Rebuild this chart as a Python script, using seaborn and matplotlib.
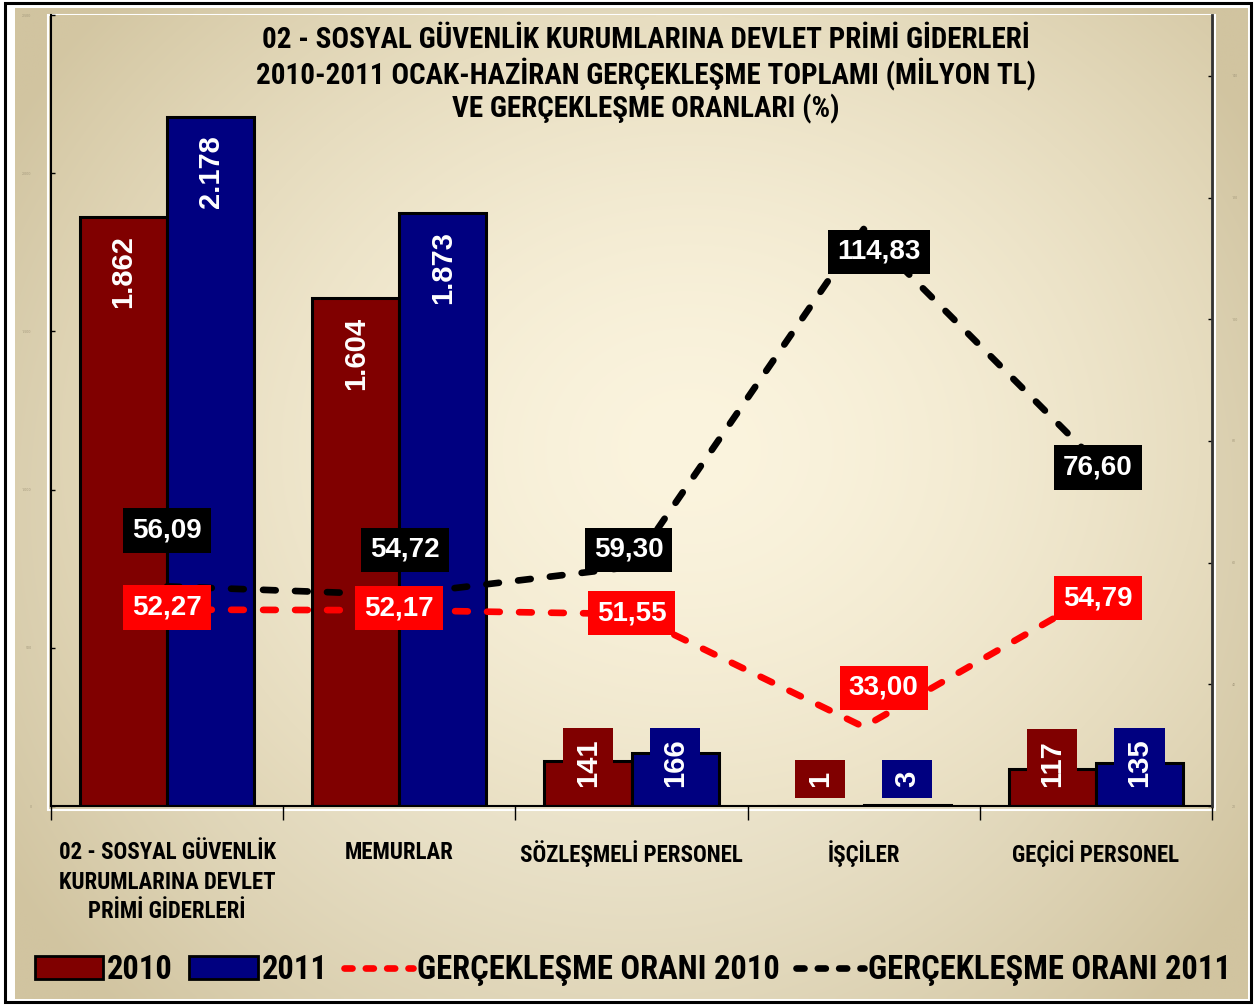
import numpy as np
import pandas as pd
import matplotlib
matplotlib.use("Agg")
import matplotlib.pyplot as plt
import seaborn as sns
from matplotlib import font_manager
from matplotlib.patches import Patch, Rectangle
from matplotlib.lines import Line2D
from matplotlib.ticker import FixedLocator, FuncFormatter

# data
kategoriler = ["02 - SOSYAL GÜVENLİK\nKURUMLARINA DEVLET\nPRİMİ GİDERLERİ",
               "MEMURLAR", "SÖZLEŞMELİ PERSONEL", "İŞÇİLER", "GEÇİCİ PERSONEL"]
yillar = ["2010", "2011"]
gider_2010 = [1862, 1604, 141, 1, 117]
gider_2011 = [2178, 1873, 166, 3, 135]
oran_2010 = [52.27, 52.17, 51.55, 33.00, 54.79]
oran_2011 = [56.09, 54.72, 59.30, 114.83, 76.60]

baslik = ("02 - SOSYAL GÜVENLİK KURUMLARINA DEVLET PRİMİ GİDERLERİ\n"
          "2010-2011 OCAK-HAZİRAN GERÇEKLEŞME TOPLAMI (MİLYON TL)\n"
          "VE GERÇEKLEŞME ORANLARI (%)")
legend_labels = ["2010", "2011", "GERÇEKLEŞME ORANI 2010", "GERÇEKLEŞME ORANI 2011"]

# label offsets in pixels (dx, dy up)
ofs_2010 = [(0, 2), (0, 2), (0, 1), (20, 39), (2, -4)]
ofs_2011 = [(0, 56), (6, 45), (-3, 17), (15, -23), (2, -6)]

koyu_kirmizi = "#800000"
lacivert = "#000080"

# pick a narrow face if one is around
installed = {f.name for f in font_manager.fontManager.ttflist}
narrow_name = "DejaVu Sans"
for cand in ["Liberation Sans Narrow", "Arial Narrow", "Roboto Condensed",
             "Archivo Narrow", "PT Sans Narrow", "Open Sans Condensed", "Arimo"]:
    if cand in installed:
        narrow_name = cand
        break
narrow = [narrow_name, "DejaVu Sans"]
bold_font = ["Liberation Sans", "DejaVu Sans"]

df = pd.DataFrame({
    "kategori": kategoriler * 2,
    "yil": [yillar[0]] * 5 + [yillar[1]] * 5,
    "deger": gider_2010 + gider_2011,
})

sns.set_style("white")
plt.rcParams["font.family"] = narrow
plt.rcParams["text.color"] = "black"
plt.rcParams["xtick.color"] = "black"
plt.rcParams["ytick.color"] = "black"

W, H = 1256, 1007
fig = plt.figure(figsize=(W / 100, H / 100), dpi=100, facecolor="white")


def radial(nx, ny, cx, cy, rx, ry, inner, outer, p=1.6):
    xx, yy = np.meshgrid(np.linspace(0, 1, nx), np.linspace(0, 1, ny))
    r = np.clip(np.sqrt(((xx - cx) / rx) ** 2 + ((yy - cy) / ry) ** 2), 0, 1) ** p
    inner = np.array(inner) / 255.0
    outer = np.array(outer) / 255.0
    return inner[None, None, :] * (1 - r[..., None]) + outer[None, None, :] * r[..., None]


# chart area background
bg = fig.add_axes([0, 0, 1, 1], zorder=-3)
bg.set_xlim(0, W)
bg.set_ylim(H, 0)
bg.axis("off")
bg.imshow(radial(300, 240, 0.5, 0.5, 0.6, 0.72, (245, 239, 219), (209, 196, 160)),
          extent=(15, 1248, 999, 8), aspect="auto", interpolation="bilinear")
bg.add_patch(Rectangle((5, 3), 1246, 999, fill=False, ec="black", lw=2.2))

# plot area
pos = [51 / W, (H - 806) / H, (1212 - 51) / W, (806 - 15) / H]
pa = fig.add_axes(pos, zorder=-2)
pa.axis("off")
pa.imshow(radial(300, 240, 0.55, 0.45, 0.68, 0.85, (251, 244, 222), (211, 198, 162)),
          extent=(0, 1, 0, 1), aspect="auto", interpolation="bilinear")
pa.set_xlim(0, 1)
pa.set_ylim(1, 0)
# thin white frame round the plot area
bg.add_patch(Rectangle((48, 15), 1167, 795, fill=False, ec="white", lw=1.5, zorder=2))

ax = fig.add_axes(pos)
ax.set_facecolor("none")
sns.barplot(data=df, x="kategori", y="deger", hue="yil", hue_order=yillar,
            palette={"2010": koyu_kirmizi, "2011": lacivert}, saturation=1,
            width=0.75, gap=0, errorbar=None, edgecolor="black", linewidth=2.2,
            legend=False, ax=ax)
ax.set_ylim(0, 2500)
ax.set_xlim(-0.5, len(kategoriler) - 0.5)
ax.set_xlabel("")
ax.set_ylabel("")
ax.yaxis.set_major_locator(FixedLocator([0, 500, 1000, 1500, 2000, 2500]))
ax.yaxis.set_major_formatter(FuncFormatter(lambda v, p: f"{int(v):,}".replace(",", ".")))
ax.tick_params(axis="y", direction="in", length=3, width=1, labelsize=3,
               labelcolor="#a89d80", pad=14, left=True)
ax.xaxis.set_minor_locator(FixedLocator(np.arange(-0.5, len(kategoriler), 1.0)))
ax.tick_params(axis="x", which="major", length=0, pad=25, labelcolor="black")
ax.tick_params(axis="x", which="minor", length=10, width=1, direction="out", bottom=True)
for lbl in ax.get_xticklabels():
    lbl.set_fontsize(16.5)
    lbl.set_fontweight("bold")
    lbl.set_linespacing(1.38)
    lbl.set_family(narrow)
for s in ["top", "right"]:
    ax.spines[s].set_visible(False)
for s in ["left", "bottom"]:
    ax.spines[s].set_color("black")
    ax.spines[s].set_linewidth(1.5)

# bar value labels
for cont, renk in zip(ax.containers, [koyu_kirmizi, lacivert]):
    for bar in cont:
        v = bar.get_height()
        xc = bar.get_x() + bar.get_width() / 2
        txt = f"{int(round(v)):,}".replace(",", ".")
        if v > 500:
            ax.annotate(txt, (xc, v), xytext=(0, -13), textcoords="offset points",
                        rotation=90, ha="center", va="top", color="white",
                        fontsize=21, fontweight="bold", family=bold_font, zorder=5)
        else:
            ax.annotate(txt, (xc, 0), xytext=(0, 13.5), textcoords="offset points",
                        rotation=90, ha="center", va="bottom", color="white",
                        fontsize=21, fontweight="bold", family=bold_font, zorder=5,
                        bbox=dict(boxstyle="square,pad=0.38", fc=renk, ec="none"))

# realisation rate lines on the secondary axis
ax2 = ax.twinx()
ax2.set_facecolor("none")
xs = np.arange(len(kategoriler))
dash = (0, (1.9, 2.9))
sns.lineplot(x=xs, y=oran_2011, ax=ax2, color="black", linewidth=4.8,
             linestyle=dash, dash_capstyle="round", zorder=3)
sns.lineplot(x=xs, y=oran_2010, ax=ax2, color="#ff0000", linewidth=4.8,
             linestyle=dash, dash_capstyle="round", zorder=3)
ax2.set_ylim(20, 150)
ax2.set_xlim(-0.5, len(kategoriler) - 0.5)
ax2.yaxis.set_major_locator(FixedLocator([20, 40, 60, 80, 100, 120, 140]))
ax2.tick_params(axis="y", direction="in", length=3, width=1, labelsize=3,
                labelcolor="#a89d80", pad=14, right=True)
ax2.set_ylabel("")
for s in ["top", "left", "bottom"]:
    ax2.spines[s].set_visible(False)
ax2.spines["right"].set_color("#333333")
ax2.spines["right"].set_linewidth(2)

for vals, ofs, renk in [(oran_2011, ofs_2011, "black"), (oran_2010, ofs_2010, "#ff0000")]:
    for x, v, (dx, dy) in zip(xs, vals, ofs):
        ax2.annotate(f"{v:.2f}".replace(".", ","), (x, v),
                     xytext=(dx * 0.72, dy * 0.72), textcoords="offset points",
                     ha="center", va="center", color="white", fontsize=20,
                     fontweight="bold", family=bold_font, zorder=6,
                     bbox=dict(boxstyle="square,pad=0.33", fc=renk, ec="none"))

# title
fig.text(646 / W, 1 - 75 / H, baslik, ha="center", va="center", fontsize=21,
         fontweight="bold", linespacing=1.12, family=narrow)

# legend
handles = [
    Patch(facecolor=koyu_kirmizi, edgecolor="black", linewidth=2),
    Patch(facecolor=lacivert, edgecolor="black", linewidth=2),
    Line2D([], [], color="#ff0000", linewidth=4.8, linestyle=(0, (1.2, 2.0)),
           dash_capstyle="round"),
    Line2D([], [], color="black", linewidth=4.8, linestyle=(0, (1.2, 2.0)),
           dash_capstyle="round"),
]
fig.legend(handles, legend_labels, loc="center", bbox_to_anchor=(633 / W, 1 - 970 / H),
           ncol=4, frameon=False, prop=dict(family=narrow, weight="bold", size=23.5),
           handlelength=2.1, handleheight=0.7, handletextpad=0.12, columnspacing=0.5,
           borderpad=0)

fig.savefig("out.png", dpi=100, facecolor="white")
